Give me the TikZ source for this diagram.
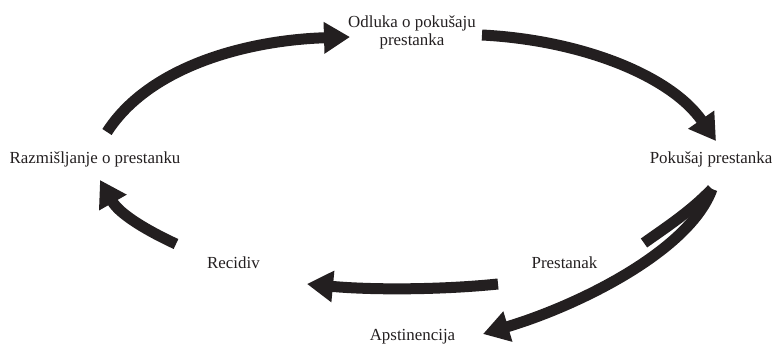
\documentclass[tikz,border=0pt]{standalone}
\usepackage{fontspec}
\setmainfont{Liberation Serif}
\usetikzlibrary{arrows.meta}
\definecolor{ink}{HTML}{231F20}
\begin{document}
\begin{tikzpicture}[x=1pt,y=-1pt,
  label/.style={inner sep=0pt,text=ink,font=\fontsize{16.9}{18}\selectfont},
  flow/.style={draw=ink,line width=11pt,-{Triangle[width=30pt,length=26pt]}},
  branch/.style={draw=ink,line width=11pt}]
\useasboundingbox (0,0) rectangle (774,345);

% stage labels
\node[label,align=center] (odluka) at (412,32) {Odluka o pokušaju\\prestanka};
\node[label,anchor=base] (razm) at (95,163) {Razmišljanje o prestanku};
\node[label,anchor=base] (pokusaj) at (711,163) {Pokušaj prestanka};
\node[label,anchor=base] (recidiv) at (233.5,268) {Recidiv};
\node[label,anchor=base] (prestanak) at (564.5,268) {Prestanak};
\node[label,anchor=base] (apst) at (412.5,340.5) {Apstinencija};

% arrow end points
\coordinate (a1) at (107,132);  \coordinate (a2) at (350,37);
\coordinate (b1) at (482,35);   \coordinate (b2) at (716,141);
\coordinate (c0) at (712,189);  \coordinate (c2) at (483,334);
\coordinate (s2) at (644,243);
\coordinate (d1) at (498,284);  \coordinate (d2) at (307,284);
\coordinate (e1) at (176,244);  \coordinate (e2) at (100,180);

% cycle arrows
\draw[flow] (a1) .. controls (150,65) and (250,40) .. (a2);
\draw[flow] (b1) .. controls (580,40) and (670,75) .. (b2);
\draw[flow] (c0) .. controls (690,250) and (580,305) .. (c2);
\draw[branch] (c0) .. controls (690,212) and (665,228) .. (s2);
\draw[flow] (d1) .. controls (440,290) and (370,290) .. (d2);
\draw[flow] (e1) .. controls (150,232) and (120,215) .. (e2);
\end{tikzpicture}
\end{document}
